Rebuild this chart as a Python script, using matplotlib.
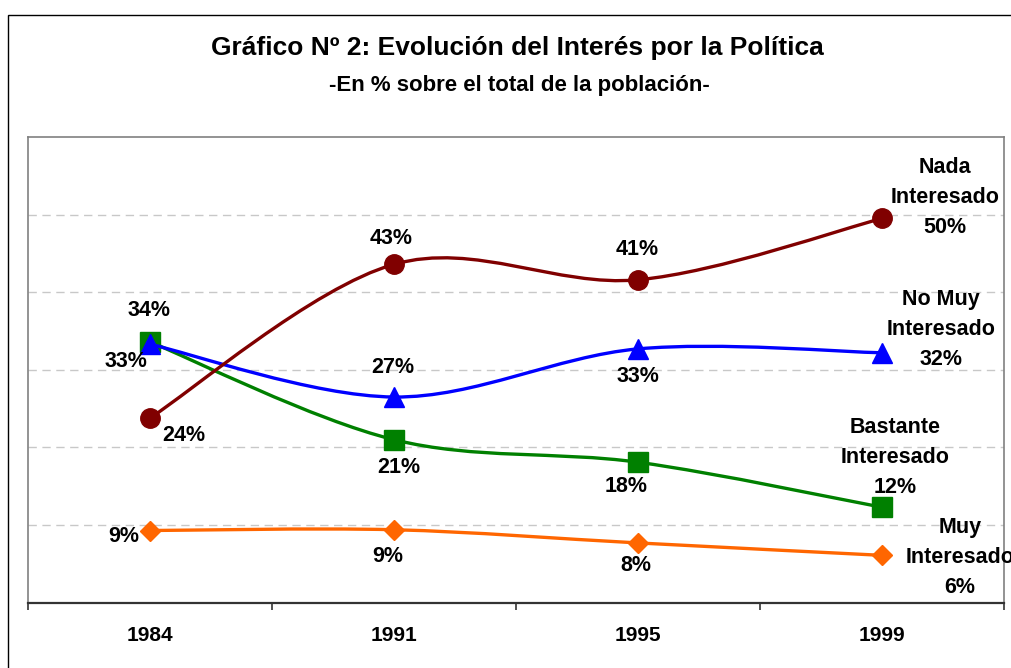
import numpy as np
import matplotlib
matplotlib.use("Agg")
import matplotlib.pyplot as plt
from matplotlib.path import Path
from matplotlib.patches import PathPatch, Rectangle

plt.rcParams["font.family"] = ["Liberation Sans", "DejaVu Sans"]

years = ["1984", "1991", "1995", "1999"]

# values (plotted), and the labels printed on the chart
nada = [23.8, 43.6, 41.6, 49.5]
no_muy = [33.3, 26.5, 32.7, 32.2]
bastante = [33.6, 21.0, 18.1, 12.3]
muy = [9.3, 9.4, 7.7, 6.1]

nada_labels = ["24%", "43%", "41%", "Nada\nInteresado\n50%"]
no_muy_labels = ["33%", "27%", "33%", "No Muy\nInteresado\n32%"]
bastante_labels = ["34%", "21%", "18%", "Bastante\nInteresado\n12%"]
muy_labels = ["9%", "9%", "8%", "Muy\nInteresado\n6%"]

title = "Gráfico Nº 2: Evolución del Interés por la Política"
subtitle = "-En % sobre el total de la población-"

# label offsets from the marker, in pixels (dx, dy up)
nada_off = [(34, -18), (-3, 26), (-1, 30), (63, 21)]
no_muy_off = [(-24, -17), (-1, 30), (0, -28), (59, 23)]
bastante_off = [(-1, 31), (5, -28), (-12, -24), (13, 50)]
muy_off = [(-26, -6), (-6, -27), (-2, -23), (78, -2)]


def smooth_path(xs, ys):
    # Excel-like smoothed line: Catmull-Rom as cubic Bezier segments
    pts = np.column_stack([xs, ys]).astype(float)
    n = len(pts)
    verts = [pts[0]]
    codes = [Path.MOVETO]
    for i in range(n - 1):
        p0 = pts[i - 1] if i > 0 else pts[i]
        p1, p2 = pts[i], pts[i + 1]
        p3 = pts[i + 2] if i + 2 < n else pts[i + 1]
        verts += [p1 + (p2 - p0) / 6, p2 - (p3 - p1) / 6, p2]
        codes += [Path.CURVE4] * 3
    return Path(verts, codes)


W, H = 1011, 668
fig = plt.figure(figsize=(W / 100, H / 100), dpi=100)
ax = fig.add_axes([28 / W, 1 - 602.7 / H, (1004 - 28) / W, (602.7 - 137) / H])

x = np.arange(len(years))
ax.set_xlim(-0.5, len(years) - 0.5)
ax.set_ylim(0, 60)

for yv in range(10, 60, 10):
    ax.axhline(yv, color="#c8c8c8", lw=1, ls=(0, (6, 4)), zorder=1)

series = [
    (muy, muy_labels, muy_off, "#ff6600", "D", 10.5),
    (bastante, bastante_labels, bastante_off, "#008000", "s", 14),
    (no_muy, no_muy_labels, no_muy_off, "#0000ff", "^", 15),
    (nada, nada_labels, nada_off, "#800000", "o", 14),
]

z = 3
for vals, labels, offs, color, marker, ms in series:
    ax.add_patch(PathPatch(smooth_path(x, vals), facecolor="none",
                           edgecolor=color, lw=2.4, zorder=z))
    ax.plot(x, vals, ls="none", marker=marker, ms=ms, color=color,
            mec=color, zorder=z + 0.5)
    for xi, v, lab, (dx, dy) in zip(x, vals, labels, offs):
        ax.annotate(lab, (xi, v), xytext=(dx, dy), textcoords="offset pixels",
                    ha="center", va="center", fontsize=15.5, fontweight="bold",
                    linespacing=1.56, annotation_clip=False, zorder=10)
    z += 1

for side in ["top", "left", "right"]:
    ax.spines[side].set_color("#808080")
    ax.spines[side].set_linewidth(1.2)
ax.spines["bottom"].set_color("#333333")
ax.spines["bottom"].set_linewidth(1.6)

ax.set_yticks([])
ax.set_xticks(x)
ax.set_xticklabels(years, fontsize=15, fontweight="bold")
ax.tick_params(axis="x", which="major", length=0, pad=17)
ax.set_xticks(np.arange(-0.5, len(years)), minor=True)
ax.tick_params(axis="x", which="minor", length=5, width=1.2,
               color="#333333", direction="out")

fig.text(517.5 / W, 1 - 48 / H, title, ha="center", va="center",
         fontsize=19, fontweight="bold")
fig.text(519 / W, 1 - 85 / H, subtitle, ha="center", va="center",
         fontsize=16, fontweight="bold")

fig.add_artist(Rectangle((8 / W, -0.1), 2, 1 - 15 / H + 0.1,
                         transform=fig.transFigure, fill=False,
                         ec="black", lw=1, clip_on=False))

fig.savefig("out.png", dpi=100)
